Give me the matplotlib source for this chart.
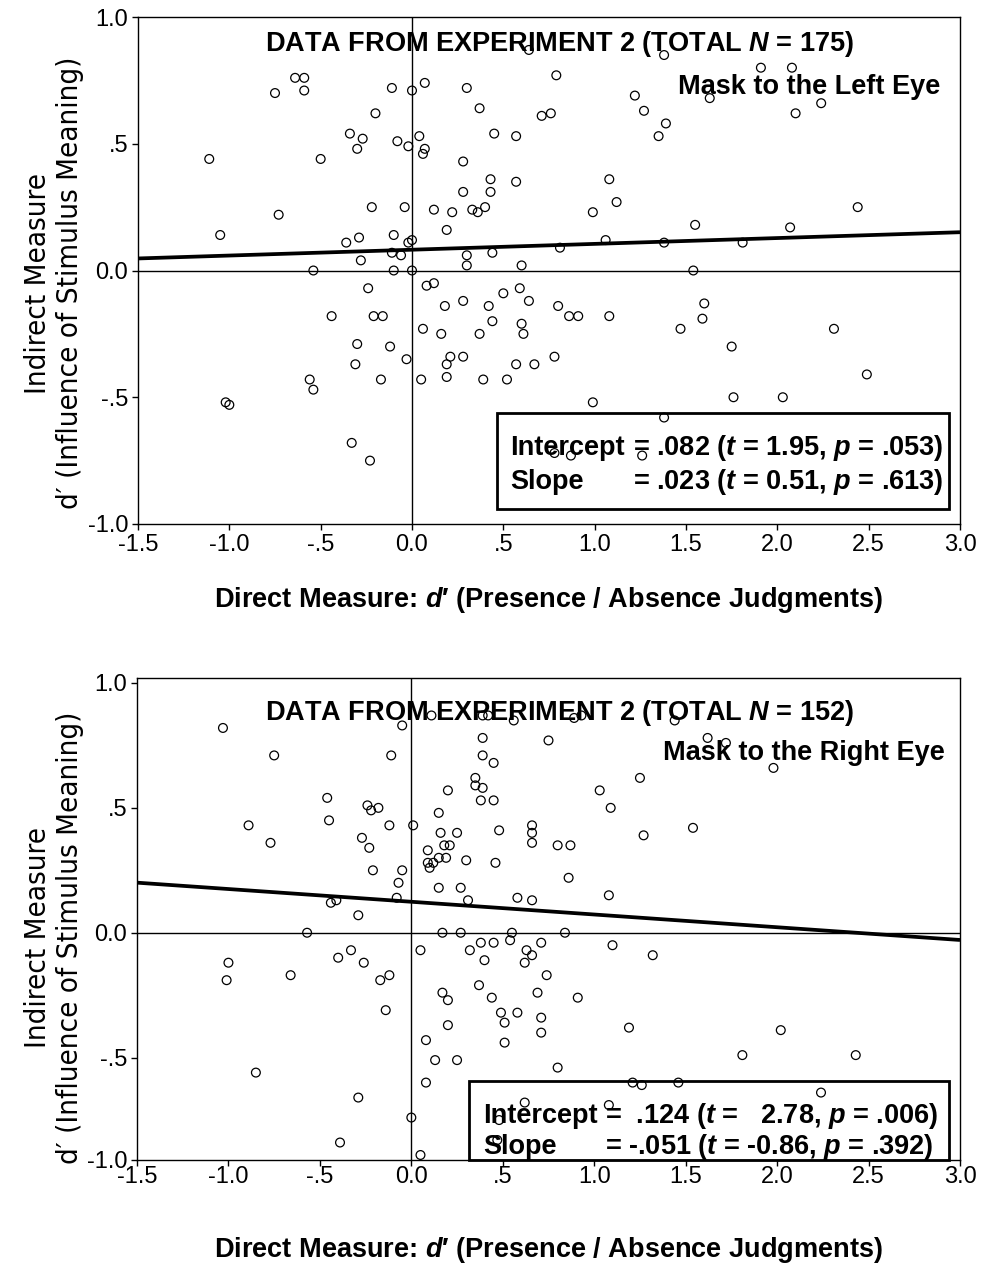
import numpy as np
import matplotlib
matplotlib.use('Agg')
import matplotlib.pyplot as plt
from matplotlib import font_manager
from matplotlib.patches import Rectangle

# ---- data ----
left_x = [-0.64, -0.59, -0.59, -0.75, -0.11, 0.00, -0.20, -0.34, -0.27, -0.30, -0.08, -0.02,
          -1.11, -0.50, -0.22, -0.04, -0.73, -1.05, -0.36, -0.29, -0.10, -0.02, 0.00, -0.11,
          -0.06, -0.28, -0.54, -0.10, 0.00,
          0.64, 1.38, 0.79, 0.07, 0.30, 0.37, 1.22, 1.27, 1.39, 1.35, 0.71, 0.76, 0.45, 0.57,
          0.04, 0.07, 0.06, 0.28, 0.43, 0.28, 0.43, 0.57, 1.08, 1.12, 0.99, 0.12, 0.22, 0.33,
          0.36, 0.40, 0.19, 1.06, 1.38, 0.81, 0.30, 0.44, 0.30, 0.60,
          1.91, 2.08, 1.63, 2.24, 2.10, 2.44, 1.55, 2.07, 1.81, 1.54,
          -0.24, -0.44, -0.21, -0.16, -0.30, -0.12, -0.03, -0.31, -0.17, -0.56, -0.54, -1.02,
          -1.00, -0.33, -0.23,
          0.08, 0.12, 0.18, 0.28, 0.42, 0.50, 0.59, 0.64, 0.80, 0.86, 0.91, 1.08, 1.47, 0.06,
          0.16, 0.37, 0.44, 0.60, 0.61, 0.21, 0.19, 0.28, 0.57, 0.67, 0.78, 0.05, 0.19, 0.39,
          0.52, 0.99, 1.38, 0.78, 0.87, 1.26,
          1.60, 1.59, 1.75, 2.31, 2.49, 1.76, 2.03]
left_y = [0.76, 0.76, 0.71, 0.70, 0.72, 0.71, 0.62, 0.54, 0.52, 0.48, 0.51, 0.49,
          0.44, 0.44, 0.25, 0.25, 0.22, 0.14, 0.11, 0.13, 0.14, 0.11, 0.12, 0.07,
          0.06, 0.04, 0.00, 0.00, 0.00,
          0.87, 0.85, 0.77, 0.74, 0.72, 0.64, 0.69, 0.63, 0.58, 0.53, 0.61, 0.62, 0.54, 0.53,
          0.53, 0.48, 0.46, 0.43, 0.36, 0.31, 0.31, 0.35, 0.36, 0.27, 0.23, 0.24, 0.23, 0.24,
          0.23, 0.25, 0.16, 0.12, 0.11, 0.09, 0.06, 0.07, 0.02, 0.02,
          0.80, 0.80, 0.68, 0.66, 0.62, 0.25, 0.18, 0.17, 0.11, 0.00,
          -0.07, -0.18, -0.18, -0.18, -0.29, -0.30, -0.35, -0.37, -0.43, -0.43, -0.47, -0.52,
          -0.53, -0.68, -0.75,
          -0.06, -0.05, -0.14, -0.12, -0.14, -0.09, -0.07, -0.12, -0.14, -0.18, -0.18, -0.18,
          -0.23, -0.23, -0.25, -0.25, -0.20, -0.21, -0.25, -0.34, -0.37, -0.34, -0.37, -0.37,
          -0.34, -0.43, -0.42, -0.43, -0.43, -0.52, -0.58, -0.72, -0.73, -0.73,
          -0.13, -0.19, -0.30, -0.23, -0.41, -0.50, -0.50]

right_x = [-1.03, -0.05, -0.75, -0.11, -0.46, -0.45, -0.24, -0.22, -0.18, -0.12, 0.01, -0.89,
           -0.77, -0.27, -0.23, -0.21, -0.05, -0.07, -0.08, -0.44, -0.41, -0.29, -0.57,
           0.11, 0.39, 0.42, 0.56, 0.89, 0.93, 1.44, 0.39, 0.75, 0.39, 0.45, 0.35, 0.35, 0.39,
           0.38, 0.45, 0.20, 1.25, 1.03, 1.09, 0.15, 0.16, 0.25, 0.48, 0.66, 0.66, 0.66, 0.80,
           0.87, 1.27, 0.18, 0.21, 0.09, 0.15, 0.19, 0.09, 0.12, 0.10, 0.30, 0.46, 0.86, 0.15,
           0.27, 0.31, 0.58, 0.66, 1.08,
           1.62, 1.72, 1.98, 1.54,
           -1.00, -1.01, -0.66, -0.40, -0.33, -0.26, -0.12, -0.17, -0.14, -0.85, -0.29, 0.00,
           -0.39,
           0.17, 0.27, 0.55, 0.54, 0.84, 0.05, 0.32, 0.38, 0.45, 0.40, 0.63, 0.66, 0.62, 0.71,
           1.10, 1.32, 0.74, 0.37, 0.44, 0.69, 0.91, 0.17, 0.20, 0.49, 0.51, 0.58, 0.71, 0.71,
           0.20, 1.19, 0.51, 0.08, 0.13, 0.25, 0.80, 0.08, 1.21, 1.26, 1.46, 0.62, 1.08, 0.48,
           0.47, 0.05,
           2.02, 1.81, 2.43, 2.24]
right_y = [0.82, 0.83, 0.71, 0.71, 0.54, 0.45, 0.51, 0.49, 0.50, 0.43, 0.43, 0.43,
           0.36, 0.38, 0.34, 0.25, 0.25, 0.20, 0.14, 0.12, 0.13, 0.07, 0.00,
           0.87, 0.87, 0.87, 0.85, 0.86, 0.87, 0.85, 0.78, 0.77, 0.71, 0.68, 0.62, 0.59, 0.58,
           0.53, 0.53, 0.57, 0.62, 0.57, 0.50, 0.48, 0.40, 0.40, 0.41, 0.43, 0.40, 0.36, 0.35,
           0.35, 0.39, 0.35, 0.35, 0.33, 0.30, 0.30, 0.28, 0.28, 0.26, 0.29, 0.28, 0.22, 0.18,
           0.18, 0.13, 0.14, 0.13, 0.15,
           0.78, 0.76, 0.66, 0.42,
           -0.12, -0.19, -0.17, -0.10, -0.07, -0.12, -0.17, -0.19, -0.31, -0.56, -0.66, -0.74,
           -0.84,
           0.00, 0.00, 0.00, -0.03, 0.00, -0.07, -0.07, -0.04, -0.04, -0.11, -0.07, -0.09,
           -0.12, -0.04, -0.05, -0.09, -0.17, -0.21, -0.26, -0.24, -0.26, -0.24, -0.27, -0.32,
           -0.36, -0.32, -0.34, -0.40, -0.37, -0.38, -0.44, -0.43, -0.51, -0.51, -0.54, -0.60,
           -0.60, -0.61, -0.60, -0.68, -0.69, -0.75, -0.83, -0.89,
           -0.39, -0.49, -0.49, -0.64]

left_fit = (0.082, 0.023)     # intercept, slope
right_fit = (0.124, -0.051)

x_ticks = [-1.5, -1.0, -0.5, 0.0, 0.5, 1.0, 1.5, 2.0, 2.5, 3.0]
x_ticklabels = ['-1.5', '-1.0', '-.5', '0.0', '.5', '1.0', '1.5', '2.0', '2.5', '3.0']
y_ticks = [-1.0, -0.5, 0.0, 0.5, 1.0]
y_ticklabels = ['-1.0', '-.5', '0.0', '.5', '1.0']

# ---- fonts ----
plt.rcParams['font.family'] = ['Liberation Sans', 'DejaVu Sans']
plt.rcParams['mathtext.fontset'] = 'custom'
plt.rcParams['mathtext.it'] = 'Liberation Sans:italic:bold'
plt.rcParams['mathtext.rm'] = 'Liberation Sans:bold'
plt.rcParams['mathtext.bf'] = 'Liberation Sans:bold'

# the y titles are set in a narrow face; use one if the machine has it
narrow = None
for f in font_manager.fontManager.ttflist:
    if f.style != 'normal' or f.weight not in (400, 'normal', 'regular', 'book'):
        continue
    if 'Narrow' in f.name or 'Condensed' in f.name or f.stretch in ('condensed', 'semi-condensed'):
        rank = 0 if 'Liberation' in f.name else (1 if 'Arial' in f.name else 2)
        if narrow is None or rank < narrow[0]:
            narrow = (rank, f.fname)
if narrow is not None:
    ylab_font = font_manager.FontProperties(fname=narrow[1], size=21.2)
else:
    ylab_font = font_manager.FontProperties(family=['Liberation Sans', 'DejaVu Sans'], size=20.5)

W, H = 984, 1270
fig = plt.figure(figsize=(W / 100, H / 100), dpi=100)


def fx(px):
    return px / W


def fy(py):
    return 1 - py / H


def draw_panel(rect, xs, ys, fit, ylo, yhi, xpad):
    ax = fig.add_axes(rect)
    ax.set_xlim(-1.5, 3.0)
    ax.set_ylim(ylo, yhi)
    ax.axhline(0, color='black', lw=1.0, zorder=1)
    ax.axvline(0, color='black', lw=1.0, zorder=1)
    ax.scatter(xs, ys, s=40, facecolors='none', edgecolors='black',
               linewidths=0.9, zorder=3)
    xl = np.array([-1.5, 3.0])
    ax.plot(xl, fit[0] + fit[1] * xl, color='black', lw=2.7, zorder=4,
            solid_capstyle='butt')
    ax.set_xticks(x_ticks)
    ax.set_xticklabels(x_ticklabels)
    yt = list(y_ticks)
    yt[0] = ylo      # lowest label sits on the bottom edge
    ax.set_yticks(yt)
    ax.set_yticklabels(y_ticklabels)
    ax.tick_params(direction='out', length=4, width=1, labelsize=17, pad=3)
    ax.tick_params(axis='x', pad=xpad)
    for sp in ax.spines.values():
        sp.set_linewidth(1.0)
    return ax


ax1 = draw_panel([fx(138), fy(524), (960 - 138) / W, (524 - 17) / H],
                 left_x, left_y, left_fit, -1.0, 1.0, 3)
ax2 = draw_panel([fx(137), fy(1160), (960 - 137) / W, (1160 - 678) / H],
                 right_x, right_y, right_fit, -0.91, 1.02, 0.5)

# ---- titles ----
bold = dict(fontsize=19.5, fontweight='bold', va='center')
fig.text(fx(560), fy(44), 'DATA FROM EXPERIMENT 2 (TOTAL $N$ = 175)', ha='center', **bold)
fig.text(fx(940), fy(87), 'Mask to the Left Eye', ha='right', **bold)
fig.text(fx(560), fy(713), 'DATA FROM EXPERIMENT 2 (TOTAL $N$ = 152)', ha='center', **bold)
fig.text(fx(945), fy(753), 'Mask to the Right Eye', ha='right', **bold)

# ---- regression boxes ----
fig.add_artist(Rectangle((fx(497), fy(509)), (949 - 497) / W, (509 - 413) / H,
                         fill=False, lw=2, edgecolor='black', transform=fig.transFigure))
fig.text(fx(510), fy(448), 'Intercept', ha='left', **bold)
fig.text(fx(633), fy(448), '= .082 ($t$ = 1.95, $p$ = .053)', ha='left', **bold)
fig.text(fx(510), fy(482), 'Slope', ha='left', **bold)
fig.text(fx(633), fy(482), '= .023 ($t$ = 0.51, $p$ = .613)', ha='left', **bold)

fig.add_artist(Rectangle((fx(469), fy(1160)), (949 - 469) / W, (1160 - 1081) / H,
                         fill=False, lw=2, edgecolor='black', transform=fig.transFigure))
fig.text(fx(483), fy(1116), 'Intercept', ha='left', **bold)
fig.text(fx(605), fy(1116), '=  .124 ($t$ =   2.78, $p$ = .006)', ha='left', **bold)
fig.text(fx(483), fy(1147), 'Slope', ha='left', **bold)
fig.text(fx(605), fy(1147), '= -.051 ($t$ = -0.86, $p$ = .392)', ha='left', **bold)

# ---- axis titles ----
xlab = 'Direct Measure: $d$\u2032 (Presence / Absence Judgments)'
fig.text(fx(548), fy(600), xlab, ha='center', **bold)
fig.text(fx(548), fy(1250), xlab, ha='center', **bold)

for yc in (283, 938):
    fig.text(fx(38), fy(yc), 'Indirect Measure', rotation=90, ha='center', va='center',
             fontproperties=ylab_font)
    fig.text(fx(70), fy(yc), 'd\u2032 (Influence of Stimulus Meaning)', rotation=90,
             ha='center', va='center', fontproperties=ylab_font)

fig.savefig('out.png', dpi=100, facecolor='white')
